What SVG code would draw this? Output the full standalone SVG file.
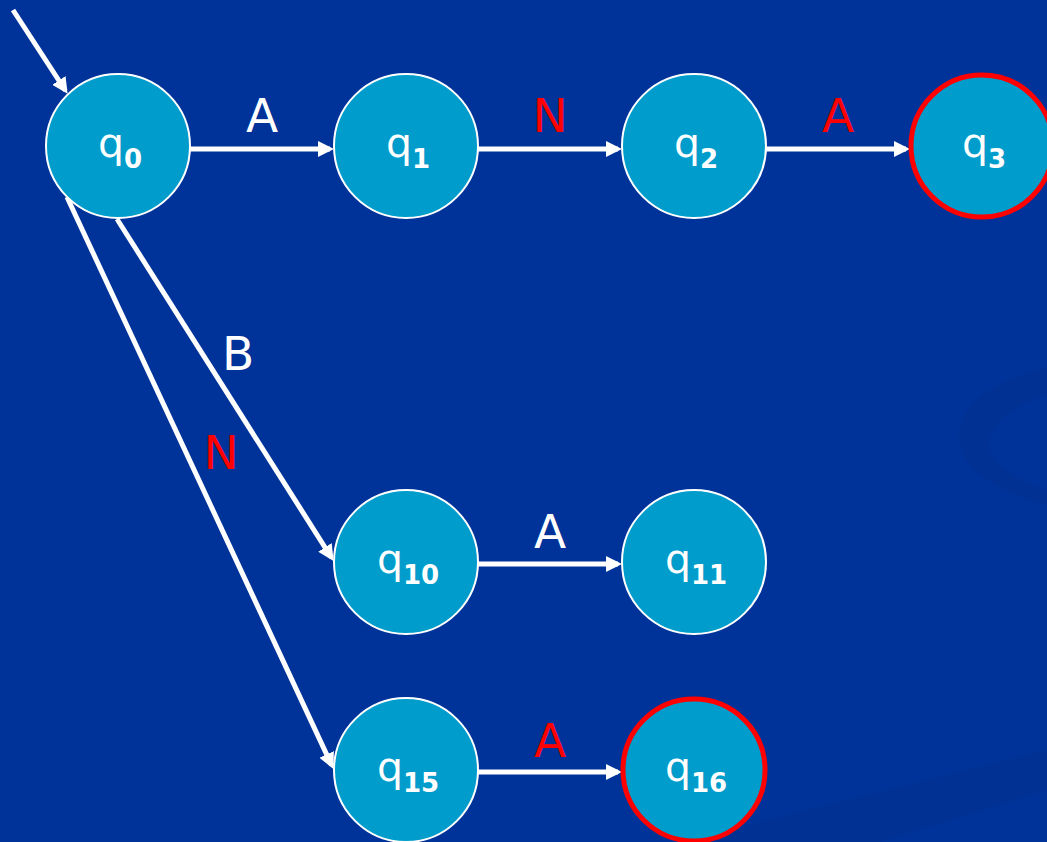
<svg xmlns="http://www.w3.org/2000/svg" width="1047" height="842" viewBox="0 0 1047 842">
  <style>
    .node { fill: #009CCB; stroke: #FFFFFF; stroke-width: 2; }
    .final { fill: #009CCB; stroke: #FF0000; stroke-width: 5; }
    .edge { stroke: #FFFFFF; stroke-width: 5; fill: none; marker-end: url(#arrow); }
    .q { font-family: "DejaVu Sans", Verdana, sans-serif; font-size: 41px; fill: #FFFFFF; text-anchor: middle; }
    .sub { font-size: 26px; font-weight: bold; }
    .lbl { font-family: "DejaVu Sans", Verdana, sans-serif; font-size: 47px; text-anchor: middle; }
    .w { fill: #FFFFFF; }
    .r { fill: #FF0000; }
  </style>
  <defs>
    <marker id="arrow" markerUnits="userSpaceOnUse" viewBox="0 0 16 16" markerWidth="16" markerHeight="16" refX="12" refY="8" orient="auto">
      <path d="M0,0 L16,8 L0,16 Z" fill="#FFFFFF"/>
    </marker>
  </defs>
  <rect x="0" y="0" width="1047" height="842" fill="#003399"/>
  <g id="background">
    <path d="M1047,368 C990,380 952,410 960,445 C966,475 1010,495 1047,505 L1047,490 C1010,478 985,460 990,438 C995,418 1020,402 1047,395 Z" fill="#002F8E" opacity="0.55"/>
    <path d="M680,842 L1047,750 L1047,790 L880,842 Z" fill="#00318F" opacity="0.6"/>
  </g>
  <g id="connectors">
    <line class="edge" x1="13" y1="10" x2="65.4" y2="90.5"/>
    <line class="edge" x1="190" y1="149" x2="330" y2="149"/>
    <line class="edge" x1="478" y1="149" x2="618" y2="149"/>
    <line class="edge" x1="766" y1="149" x2="906" y2="149"/>
    <line class="edge" x1="117" y1="219" x2="331.4" y2="557.5"/>
    <line class="edge" x1="67" y1="197" x2="331.7" y2="765.3"/>
    <line class="edge" x1="478" y1="564" x2="618" y2="564"/>
    <line class="edge" x1="478" y1="772" x2="618" y2="772"/>
  </g>
  <g id="labels">
    <text class="lbl w" x="262" y="132">A</text>
    <text class="lbl r" x="550" y="132">N</text>
    <text class="lbl r" x="838" y="132">A</text>
    <text class="lbl w" x="238" y="370">B</text>
    <text class="lbl r" x="221" y="469">N</text>
    <text class="lbl w" x="550" y="548">A</text>
    <text class="lbl r" x="550" y="757">A</text>
  </g>
  <g id="q0">
    <circle class="node" cx="118" cy="146" r="72"/>
    <text class="q" x="120" y="157">q<tspan class="sub" dy="11">0</tspan></text>
  </g>
  <g id="q1">
    <circle class="node" cx="406" cy="146" r="72"/>
    <text class="q" x="408" y="157">q<tspan class="sub" dy="11">1</tspan></text>
  </g>
  <g id="q2">
    <circle class="node" cx="694" cy="146" r="72"/>
    <text class="q" x="696" y="157">q<tspan class="sub" dy="11">2</tspan></text>
  </g>
  <g id="q3">
    <circle class="final" cx="982" cy="146" r="71"/>
    <text class="q" x="984" y="157">q<tspan class="sub" dy="11">3</tspan></text>
  </g>
  <g id="q10">
    <circle class="node" cx="406" cy="562" r="72"/>
    <text class="q" x="408" y="573">q<tspan class="sub" dy="11">10</tspan></text>
  </g>
  <g id="q11">
    <circle class="node" cx="694" cy="562" r="72"/>
    <text class="q" x="696" y="573">q<tspan class="sub" dy="11">11</tspan></text>
  </g>
  <g id="q15">
    <circle class="node" cx="406" cy="770" r="72"/>
    <text class="q" x="408" y="781">q<tspan class="sub" dy="11">15</tspan></text>
  </g>
  <g id="q16">
    <circle class="final" cx="694" cy="770" r="71"/>
    <text class="q" x="696" y="781">q<tspan class="sub" dy="11">16</tspan></text>
  </g>
</svg>
